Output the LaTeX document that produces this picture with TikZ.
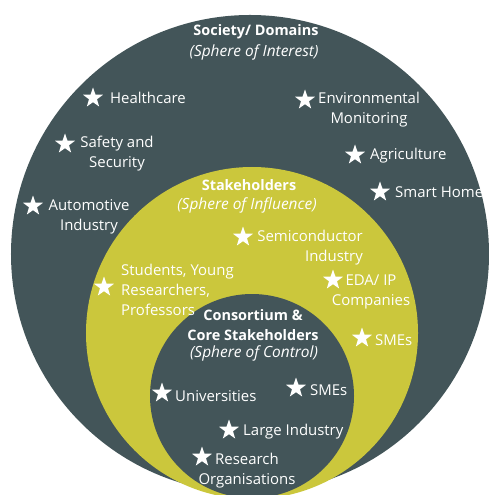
\documentclass[tikz,border=0pt]{standalone}
\usepackage{fontspec}
\setmainfont{Open Sans}
\usetikzlibrary{shapes.geometric}
\definecolor{slate}{HTML}{435559}
\definecolor{olive}{HTML}{CBC73C}
\begin{document}
\begin{tikzpicture}[x=1bp,y=-1bp,
  lbl/.style={text=white,inner sep=0pt,font=\fontsize{15}{20}\selectfont},
  ttl/.style={text=white,inner sep=0pt,align=center,font=\fontsize{14.5}{20}\selectfont\bfseries},
  sub/.style={text=white,inner sep=0pt,font=\fontsize{15.5}{20}\selectfont\itshape},
  starmark/.style={star,star points=5,star point ratio=2.5,fill=white,draw=none,minimum size=21bp,inner sep=0pt}]
\useasboundingbox (0,0) rectangle (489,495);
\fill[white] (0,0) rectangle (489,495);
\begin{scope}
\clip (0,0) rectangle (489,495);
% three nested spheres
\fill[slate] (250,254) circle [radius=239bp];
\fill[olive] (252,333) circle [radius=166bp];
\fill[slate] (252,396) circle [radius=102bp];
\end{scope}

% outer sphere
\node[ttl] (t1) at (256,32) {Society/ Domains};
\node[sub] (s1) at (254,52) {(Sphere of Interest)};
\node[starmark] (st-health) at (93,98) {};
\node[lbl,anchor=west] (health) at (110,98) {Healthcare};
\node[starmark] (st-env) at (305,100) {};
\node[lbl,align=center] (env) at (369,110) {Environmental\\Monitoring};
\node[starmark] (st-safe) at (65,144) {};
\node[lbl,align=center] (safe) at (117,154) {Safety and\\Security};
\node[starmark] (st-agri) at (355,155) {};
\node[lbl,anchor=west] (agri) at (370,156) {Agriculture};
\node[starmark] (st-home) at (380,192) {};
\node[lbl,anchor=west] (home) at (395,192) {Smart Home};
\node[starmark] (st-auto) at (33,206) {};
\node[lbl,align=center] (auto) at (89,217) {Automotive\\Industry};

% middle sphere
\node[ttl] (t2) at (249,185) {Stakeholders};
\node[sub] (s2) at (247,205) {(Sphere of Influence)};
\node[starmark] (st-semi) at (243,237) {};
\node[lbl,align=right,anchor=east] (semi) at (363,248) {Semiconductor\\Industry};
\node[starmark] (st-stud) at (104,287) {};
\node[lbl,align=left,anchor=west] (stud) at (121,290) {Students, Young\\Researchers,\\Professors};
\node[starmark] (st-eda) at (333,280) {};
\node[lbl,align=center] (eda) at (371,292) {EDA/ IP\\Companies};
\node[starmark] (st-sme1) at (362,338) {};
\node[lbl,anchor=west] (sme1) at (375,340) {SMEs};

% inner sphere
\node[ttl] (t3) at (253,325) {Consortium \&\\Core Stakeholders};
\node[sub] (s3) at (254,353) {(Sphere of Control)};
\node[starmark] (st-uni) at (162,393) {};
\node[lbl,anchor=west] (uni) at (175,396) {Universities};
\node[starmark] (st-sme2) at (296,388) {};
\node[lbl,anchor=west] (sme2) at (310,390) {SMEs};
\node[starmark] (st-large) at (229,430) {};
\node[lbl,anchor=west] (large) at (243,432) {Large Industry};
\node[starmark] (st-res) at (202,457) {};
\node[lbl,align=center] (res) at (247,471) {Research\\Organisations};
\end{tikzpicture}
\end{document}
